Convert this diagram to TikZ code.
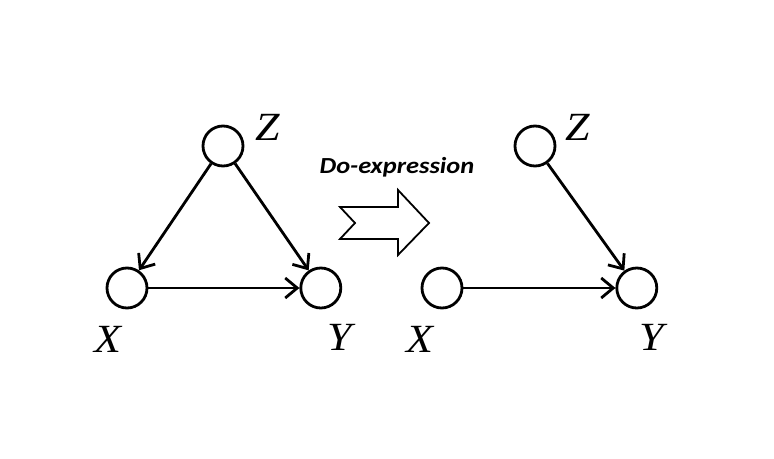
\documentclass[tikz,border=0pt]{standalone}
\usepackage{fontspec}
\usepackage{tikz}
\usetikzlibrary{arrows.meta,positioning}
\newfontfamily\calfont{Carlito}
\newfontfamily\varfont{Liberation Serif}
\newcommand{\varlab}[1]{\scalebox{1.1}[1]{\fontsize{40}{42}\varfont\itshape #1}}

\begin{document}
\begin{tikzpicture}[x=1pt,y=-1pt,->,>={Straight Barb[length=12pt,width=20pt]},
  line width=2.8pt,node distance=191pt,
  main node/.style={circle,fill=white,draw,minimum size=40pt,inner sep=0pt},
  var node/.style={inner sep=0pt}]
  \useasboundingbox (0,0) rectangle (774,458);

  % before
  \node[main node] (1) at (127,288) {};
  \node[main node] (2) [right=151pt of 1] {};
  \node[main node] (3) at (223,146) {};
  % after
  \node[main node] (4) at (442,288) {};
  \node[main node] (5) [right=152pt of 4] {};
  \node[main node] (6) at (535,146) {};

  \node[var node] (11) at (108,339) {\varlab{X}};
  \node[var node] (12) at (340,337) {\varlab{Y}};
  \node[var node] (13) at (268,127) {\varlab{Z}};
  \node[var node] (14) at (420,339) {\varlab{X}};
  \node[var node] (15) at (652,337) {\varlab{Y}};
  \node[var node] (16) at (578,127) {\varlab{Z}};

  \node (7) at (397,167) {\scalebox{1.15}[1]{\fontsize{23}{25}\calfont\bfseries\itshape Do-expression}};
  \draw[-,line width=1.8pt,line join=miter] (340,207) -- (398,207) -- (398,190) -- (429,223)
    -- (398,255) -- (398,239) -- (340,239) -- (355,223) -- cycle;

  \path
    (3) edge (1)
    (3) edge (2)
    (1) edge (2)
    (6) edge (5)
    (4) edge (5);
\end{tikzpicture}
\end{document}
